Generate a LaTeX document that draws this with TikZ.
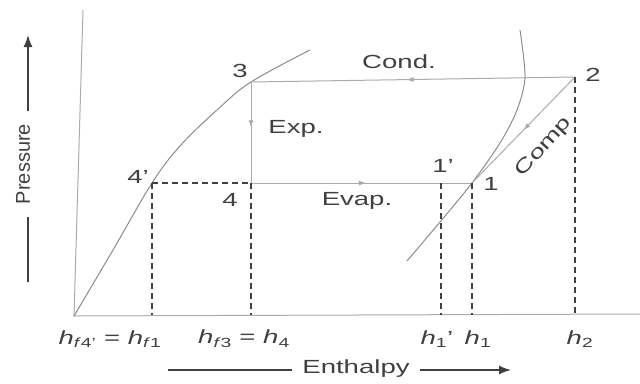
\documentclass[tikz,border=0pt]{standalone}
\usepackage{fontspec}
\setmainfont{Liberation Sans}[FakeStretch=1.45]
\newfontfamily\axisfont{Liberation Sans}
\usepackage{xcolor}
\usetikzlibrary{arrows.meta, decorations.markings}
\definecolor{ink}{HTML}{404040}
\definecolor{faint}{HTML}{ABABAB}
\definecolor{curve}{HTML}{8C8C8C}

\begin{document}
\begin{tikzpicture}[x=1pt, y=-1pt, line width=1pt, faint,
    lbl/.style={text=ink, font=\fontsize{19}{21}\selectfont, inner sep=1pt},
    drop/.style={ink, line width=1.8pt, dash pattern=on 6pt off 4pt},
    flow/.style={postaction={decorate}, decoration={markings,
      mark=at position #1 with {\arrow{Latex[length=7pt,width=5pt]}}}}]
  \useasboundingbox (0,0) rectangle (640,383);
  \coordinate (o) at (74,316);
  \coordinate (base) at (400,315);
  \draw (83,10) -- (o) -- (640,314);
  \coordinate (p1) at (472,183);
  \coordinate (p1s) at (441,183);
  \coordinate (p2) at (575,77);
  \coordinate (p3) at (251,82);
  \coordinate (p4) at (251,183);
  \coordinate (p4s) at (152,183);
  \draw[curve] plot[smooth, tension=0.6] coordinates {(o) (113,250) (p4s) (180,146) (217,110) (p3) (310,50)};
  \draw[curve] plot[smooth] coordinates {(520,30) (525,77) (517,110) (500,143) (p1) (440,222) (407,261)};
  \draw[flow=0.52] (p2) -- (p3);
  \draw[flow=0.45] (p3) -- (p4);
  \draw[flow=0.52] (p4) -- (p1);
  \draw[flow=0.5] (p2) -- (p1);
  \draw[drop] (p4s) -- (p4);
  \foreach \p in {p4s,p4,p1s,p1,p2}
    \draw[drop] (\p) -- (\p |- base);
  \node[lbl] (n3) at (240,71) {3};
  \node[lbl] (n2) at (593,75) {2};
  \node[lbl] (n4s) at (138,177) {4'};
  \node[lbl] (n4) at (230,200) {4};
  \node[lbl] (n1s) at (443,166) {1'};
  \node[lbl] (n1) at (491,184) {1};
  \node[lbl] (cond) at (399,62) {Cond.};
  \node[lbl] (exp) at (296,129) {Exp.};
  \node[lbl] (evap) at (357,201) {Evap.};
  \node[lbl, rotate=48] (comp) at (544,147) {Comp};
  \node[lbl] (hf4) at (110,339) {\textit{h}\textsubscript{\textit{f}4'} = \textit{h}\textsubscript{\textit{f}1}};
  \node[lbl] (hf3) at (244,339) {\textit{h}\textsubscript{\textit{f}3} = \textit{h}\textsubscript{4}};
  \node[lbl] (h1s) at (437,339) {\textit{h}\textsubscript{1}'};
  \node[lbl] (h1) at (478,339) {\textit{h}\textsubscript{1}};
  \node[lbl] (h2) at (580,339) {\textit{h}\textsubscript{2}};
  \node[lbl, font=\axisfont\fontsize{20}{22}\selectfont, rotate=90, inner xsep=12pt] (pres) at (23,164) {Pressure};
  \coordinate (pbot) at (28,282);
  \coordinate (ptop) at (28,35);
  \draw[ink, line width=1.5pt] (pbot) -- (pres.west -| pbot);
  \draw[ink, line width=1.5pt, -{Latex[length=12pt,width=9pt]}] (pres.east -| ptop) -- (ptop);
  \node[lbl, inner xsep=10pt] (enth) at (356,369) {Enthalpy};
  \coordinate (eleft) at (168,370);
  \coordinate (eright) at (511,370);
  \draw[ink, line width=1.5pt] (eleft) -- (enth.west |- eleft);
  \draw[ink, line width=1.5pt, -{Latex[length=12pt,width=9pt]}] (enth.east |- eright) -- (eright);
\end{tikzpicture}
\end{document}
